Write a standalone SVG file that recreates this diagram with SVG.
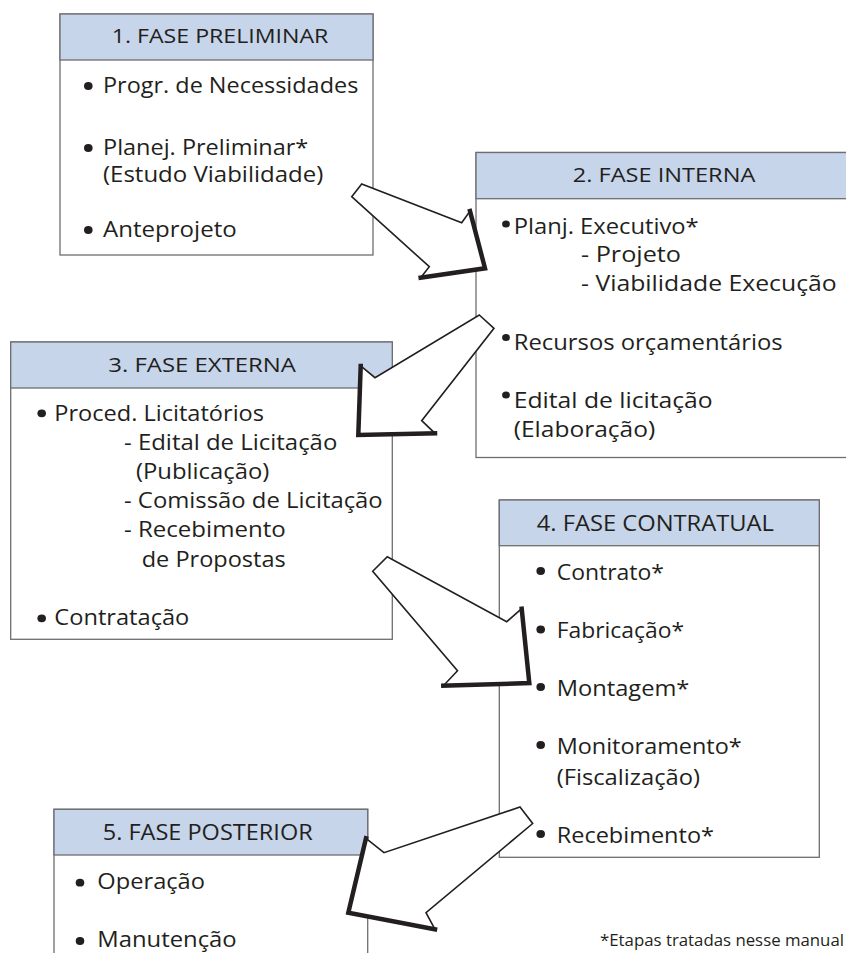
<svg xmlns="http://www.w3.org/2000/svg" width="846" height="953" viewBox="0 0 846 953">
<style>
.box{fill:#ffffff;stroke:#6d6e71;stroke-width:1.3}
.hdr{fill:#c6d5ea;stroke:#6d6e71;stroke-width:1.3}
.t{font-family:"Open Sans","Liberation Sans",sans-serif;font-size:21px;fill:#231f20}
.h{font-family:"Open Sans","Liberation Sans",sans-serif;font-size:20.5px;fill:#231f20}
.b{fill:#231f20}
.arr{fill:#ffffff;stroke:#231f20;stroke-width:1.6;stroke-linejoin:miter}
.sh{fill:none;stroke:#231f20;stroke-width:4.5;stroke-linejoin:miter;stroke-linecap:square}
</style>
<rect width="846" height="953" fill="#ffffff"/>

<g id="fase1">
<rect class="box" x="60" y="14" width="313" height="241"/>
<rect class="hdr" x="60" y="14" width="313" height="46"/>
<text class="h" x="111.7" y="43.3" textLength="216.7" lengthAdjust="spacingAndGlyphs">1. FASE PRELIMINAR</text>
<ellipse class="b" cx="88.3" cy="86" rx="4.3" ry="3.9"/>
<text class="t" x="103" y="93.3" textLength="255.3" lengthAdjust="spacingAndGlyphs">Progr. de Necessidades</text>
<ellipse class="b" cx="88.3" cy="148" rx="4.3" ry="3.9"/>
<text class="t" x="103" y="155" textLength="205.3" lengthAdjust="spacingAndGlyphs">Planej. Preliminar*</text>
<text class="t" x="103" y="181.7" textLength="220.3" lengthAdjust="spacingAndGlyphs">(Estudo Viabilidade)</text>
<ellipse class="b" cx="88.3" cy="230" rx="4.3" ry="3.9"/>
<text class="t" x="103" y="237.3" textLength="133.7" lengthAdjust="spacingAndGlyphs">Anteprojeto</text>
</g>

<g id="fase2">
<rect class="box" x="476" y="152.5" width="380" height="305"/>
<rect class="hdr" x="476" y="152.5" width="380" height="46.2"/>
<text class="h" x="572.7" y="182.3" textLength="182.6" lengthAdjust="spacingAndGlyphs">2. FASE INTERNA</text>
<ellipse class="b" cx="506" cy="224" rx="3.9" ry="3.6"/>
<text class="t" x="513.7" y="234" textLength="185" lengthAdjust="spacingAndGlyphs">Planj. Executivo*</text>
<text class="t" x="581" y="262.3" textLength="100" lengthAdjust="spacingAndGlyphs">- Projeto</text>
<text class="t" x="581" y="290.7" textLength="255.7" lengthAdjust="spacingAndGlyphs">- Viabilidade Execução</text>
<ellipse class="b" cx="506" cy="337.5" rx="3.9" ry="3.6"/>
<text class="t" x="513.7" y="349.7" textLength="269" lengthAdjust="spacingAndGlyphs">Recursos orçamentários</text>
<ellipse class="b" cx="506" cy="395" rx="3.9" ry="3.6"/>
<text class="t" x="513.7" y="408" textLength="199" lengthAdjust="spacingAndGlyphs">Edital de licitação</text>
<text class="t" x="513.7" y="436.5" textLength="141.5" lengthAdjust="spacingAndGlyphs">(Elaboração)</text>
</g>

<g id="fase3">
<rect class="box" x="10.7" y="342" width="381.6" height="297.3"/>
<rect class="hdr" x="10.7" y="342" width="381.6" height="46"/>
<text class="h" x="108.3" y="371.7" textLength="187.7" lengthAdjust="spacingAndGlyphs">3. FASE EXTERNA</text>
<ellipse class="b" cx="41.7" cy="413.3" rx="4.3" ry="3.9"/>
<text class="t" x="54.3" y="420.7" textLength="209.7" lengthAdjust="spacingAndGlyphs">Proced. Licitatórios</text>
<text class="t" x="124" y="450" textLength="213.3" lengthAdjust="spacingAndGlyphs">- Edital de Licitação</text>
<text class="t" x="136" y="479" textLength="133.3" lengthAdjust="spacingAndGlyphs">(Publicação)</text>
<text class="t" x="124" y="508.3" textLength="258.7" lengthAdjust="spacingAndGlyphs">- Comissão de Licitação</text>
<text class="t" x="124" y="537.3" textLength="161.7" lengthAdjust="spacingAndGlyphs">- Recebimento</text>
<text class="t" x="141.7" y="566.7" textLength="144" lengthAdjust="spacingAndGlyphs">de Propostas</text>
<ellipse class="b" cx="41.7" cy="618.3" rx="4.3" ry="3.9"/>
<text class="t" x="54.3" y="625" textLength="135" lengthAdjust="spacingAndGlyphs">Contratação</text>
</g>

<g id="fase4">
<rect class="box" x="499.3" y="500" width="320" height="357.3"/>
<rect class="hdr" x="499.3" y="500" width="320" height="45.7"/>
<text class="h" x="536.7" y="531" textLength="237.3" lengthAdjust="spacingAndGlyphs" style="font-size:21.5px">4. FASE CONTRATUAL</text>
<ellipse class="b" cx="540.7" cy="571" rx="4.3" ry="3.9"/>
<text class="t" x="556.7" y="579.5" textLength="107.3" lengthAdjust="spacingAndGlyphs" style="font-size:22px">Contrato*</text>
<ellipse class="b" cx="540.7" cy="629.5" rx="4.3" ry="3.9"/>
<text class="t" x="556.7" y="638.3" textLength="127.3" lengthAdjust="spacingAndGlyphs" style="font-size:22px">Fabricação*</text>
<ellipse class="b" cx="540.7" cy="687" rx="4.3" ry="3.9"/>
<text class="t" x="556.7" y="695.5" textLength="132.7" lengthAdjust="spacingAndGlyphs" style="font-size:22px">Montagem*</text>
<ellipse class="b" cx="540.7" cy="745" rx="4.3" ry="3.9"/>
<text class="t" x="556.7" y="754" textLength="185" lengthAdjust="spacingAndGlyphs" style="font-size:22px">Monitoramento*</text>
<text class="t" x="556.7" y="784.5" textLength="143.3" lengthAdjust="spacingAndGlyphs" style="font-size:22px">(Fiscalização)</text>
<ellipse class="b" cx="540.7" cy="834" rx="4.3" ry="3.9"/>
<text class="t" x="556.7" y="843.3" textLength="157.3" lengthAdjust="spacingAndGlyphs" style="font-size:22px">Recebimento*</text>
</g>

<g id="fase5">
<rect class="box" x="54" y="809.3" width="313.7" height="160"/>
<rect class="hdr" x="54" y="809.3" width="313.7" height="45.7"/>
<text class="h" x="102.7" y="840" textLength="210" lengthAdjust="spacingAndGlyphs" style="font-size:21px">5. FASE POSTERIOR</text>
<ellipse class="b" cx="80" cy="882.7" rx="4.3" ry="3.9"/>
<text class="t" x="97.3" y="889.3" textLength="107.7" lengthAdjust="spacingAndGlyphs" style="font-size:22px">Operação</text>
<ellipse class="b" cx="80" cy="941" rx="4.3" ry="3.9"/>
<text class="t" x="97.3" y="947.3" textLength="139.4" lengthAdjust="spacingAndGlyphs" style="font-size:22px">Manutenção</text>
</g>

<g id="connectors">
<polygon class="arr" points="351.7,196.7 361.7,184 461.7,222.7 470,211 485,268.3 420.7,277.7 429.3,266.7"/>
<polyline class="sh" points="470,211 485,268.3 420.7,277.7"/>
<polygon class="arr" points="479.3,315 494,328.3 421.7,420.7 435,433.3 358.3,435 360.7,366 375,377.7"/>
<polyline class="sh" points="360.7,366 358.3,435 435,433.3"/>
<polygon class="arr" points="372.7,571.2 387.3,556.7 506.7,621.7 521.7,608.7 529.3,683 443.3,685.8 457.5,670.8"/>
<polyline class="sh" points="521.7,608.7 529.3,683 443.3,685.8"/>
<polygon class="arr" points="520,807 532.7,823.5 426,912.7 435,929.3 348.3,912.7 366,838.3 384,852.7"/>
<polyline class="sh" points="366,838.3 348.3,912.7 435,929.3"/>
</g>

<text id="nota" class="t" x="600" y="946" textLength="244" lengthAdjust="spacingAndGlyphs" style="font-size:16px">*Etapas tratadas nesse manual</text>
</svg>
